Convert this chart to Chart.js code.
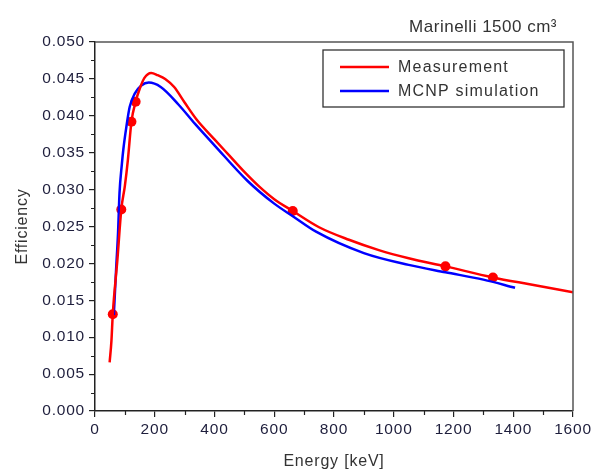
<!DOCTYPE html>
<html><head><meta charset="utf-8">
<script src="https://cdn.jsdelivr.net/npm/chart.js@4/dist/chart.umd.min.js"></script>
<style>html,body{margin:0;padding:0;background:#fff}</style>
</head><body>
<canvas id="c" width="591" height="472"></canvas>
<script>
// ---- data ----
const measCurveE   = [49, 55, 59.5, 75, 88, 100, 110, 122, 136, 150, 165, 188, 210, 235, 265, 300, 340, 400, 450, 500, 550, 600, 662, 750, 850, 950, 1050, 1173, 1332, 1450, 1600];
const measCurveEff = [0.0066, 0.0095, 0.0131, 0.0205, 0.0273, 0.0305, 0.0340, 0.0392, 0.0419, 0.0437, 0.0451, 0.0458, 0.0455, 0.0450, 0.0439, 0.0418, 0.0395, 0.0368, 0.0346, 0.0324, 0.0304, 0.0287, 0.0271, 0.0249, 0.0232, 0.0218, 0.0207, 0.0196, 0.0181, 0.0172, 0.0161];
const mcnpE   = [63, 71, 77, 82, 90, 95, 105, 116, 133, 155, 180, 220, 280, 335, 400, 510, 600, 662, 740, 900, 1050, 1173, 1300, 1406];
const mcnpEff = [0.0130, 0.0195, 0.0240, 0.0295, 0.0335, 0.0355, 0.0385, 0.0412, 0.0430, 0.0441, 0.0445, 0.0439, 0.0415, 0.0389, 0.0360, 0.0312, 0.0281, 0.0264, 0.0243, 0.0214, 0.0198, 0.0188, 0.0178, 0.0167];
const pointE   = [59.5, 88, 122, 136, 662, 1173, 1332];
const pointEff = [0.0131, 0.0273, 0.0392, 0.0419, 0.0271, 0.0196, 0.0181];
const seriesNames = ['Measurement', 'MCNP simulation'];
const chartTitle = 'Marinelli 1500 cm³';
const xTitle = 'Energy [keV]';
const yTitle = 'Efficiency';
const xMinorStep = 100, yMinorStep = 0.0025;

const FONT = "'Liberation Sans', Arial, sans-serif";
const toXY = (xs, ys) => xs.map((x, i) => ({x: x, y: ys[i]}));

const decor = {
  id: 'decor',
  beforeDraw(chart) { chart.ctx.letterSpacing = '0.8px'; },
  afterDraw(chart) {
    const {ctx, chartArea: a, scales} = chart;
    ctx.save();
    ctx.letterSpacing = '0px';
    // minor ticks
    ctx.strokeStyle = '#222';
    ctx.lineWidth = 1.2;
    ctx.beginPath();
    for (let v = scales.x.min + xMinorStep; v < scales.x.max; v += 2 * xMinorStep) {
      const px = Math.round(scales.x.getPixelForValue(v)) + 0.5;
      ctx.moveTo(px, a.bottom); ctx.lineTo(px, a.bottom + 4);
    }
    for (let k = 1; k * yMinorStep < scales.y.max; k += 2) {
      const py = Math.round(scales.y.getPixelForValue(k * yMinorStep)) + 0.5;
      ctx.moveTo(a.left, py); ctx.lineTo(a.left - 4, py);
    }
    ctx.stroke();
    // top and right frame
    ctx.strokeStyle = '#555';
    ctx.lineWidth = 1.5;
    ctx.beginPath();
    ctx.moveTo(a.left, a.top); ctx.lineTo(a.right, a.top); ctx.lineTo(a.right, a.bottom);
    ctx.stroke();
    // legend box
    const lx = a.right - 250, ly = a.top + 8, lw = 241, lh = 57;
    ctx.strokeStyle = '#333';
    ctx.lineWidth = 1.3;
    ctx.strokeRect(lx, ly, lw, lh);
    const cols = ['#ff0000', '#0000ff'];
    ctx.font = '16px ' + FONT;
    ctx.letterSpacing = '1.2px';
    ctx.textBaseline = 'middle';
    ctx.fillStyle = '#333';
    seriesNames.forEach((n, i) => {
      const y = ly + 17 + i * 24;
      ctx.strokeStyle = cols[i];
      ctx.lineWidth = 2.5;
      ctx.beginPath(); ctx.moveTo(lx + 17, y); ctx.lineTo(lx + 66, y); ctx.stroke();
      ctx.fillText(n, lx + 75, y + 1);
    });
    // title
    ctx.font = '17px ' + FONT;
    ctx.letterSpacing = '0.5px';
    ctx.textAlign = 'right';
    ctx.textBaseline = 'alphabetic';
    ctx.fillStyle = '#333';
    ctx.fillText(chartTitle, a.right - 16, 32);
    ctx.restore();
  }
};

new Chart(document.getElementById('c'), {
  type: 'line',
  data: {
    datasets: [
      {label: seriesNames[0], data: toXY(measCurveE, measCurveEff), borderColor: '#ff0000', borderWidth: 2.5, pointRadius: 0, cubicInterpolationMode: 'monotone', fill: false},
      {label: seriesNames[1], data: toXY(mcnpE, mcnpEff), borderColor: '#0000ff', borderWidth: 2.5, pointRadius: 0, cubicInterpolationMode: 'monotone', fill: false},
      {label: 'points', data: toXY(pointE, pointEff), showLine: false, pointRadius: 5, pointBackgroundColor: '#ff0000', pointBorderColor: '#ff0000', pointBorderWidth: 0, borderColor: '#ff0000'}
    ]
  },
  options: {
    responsive: false,
    animation: false,
    devicePixelRatio: 1,
    layout: {padding: {top: 42, right: 18, left: 0, bottom: 0}},
    plugins: {legend: {display: false}, tooltip: {enabled: false}},
    scales: {
      x: {
        type: 'linear', min: 0, max: 1600,
        afterFit(s) { s.height = 61; s.paddingLeft = 0; s.paddingRight = 0; },
        ticks: {stepSize: 200, autoSkip: false, maxRotation: 0, padding: 3,
          callback: v => String(Math.round(v)),
          font: {family: FONT, size: 15.5}, color: '#1e1e3c'},
        grid: {drawOnChartArea: false, tickLength: 6, color: '#222', lineWidth: 1.2},
        border: {color: '#222', width: 1.5},
        title: {display: true, text: xTitle, font: {family: FONT, size: 16}, color: '#333', padding: {top: 0, bottom: 1}}
      },
      y: {
        type: 'linear', min: 0, max: 0.05,
        afterFit(s) { s.width = 95; s.paddingTop = 0; s.paddingBottom = 0; },
        ticks: {stepSize: 0.005, autoSkip: false, padding: 4,
          callback: v => (Math.round(v * 1000) / 1000).toFixed(3),
          font: {family: FONT, size: 15.5}, color: '#1e1e3c'},
        grid: {drawOnChartArea: false, tickLength: 6, color: '#222', lineWidth: 1.2},
        border: {color: '#222', width: 1.5},
        title: {display: true, text: yTitle, font: {family: FONT, size: 16}, color: '#333', padding: {top: 13, bottom: 0}}
      }
    }
  },
  plugins: [decor]
});
</script>
</body></html>
